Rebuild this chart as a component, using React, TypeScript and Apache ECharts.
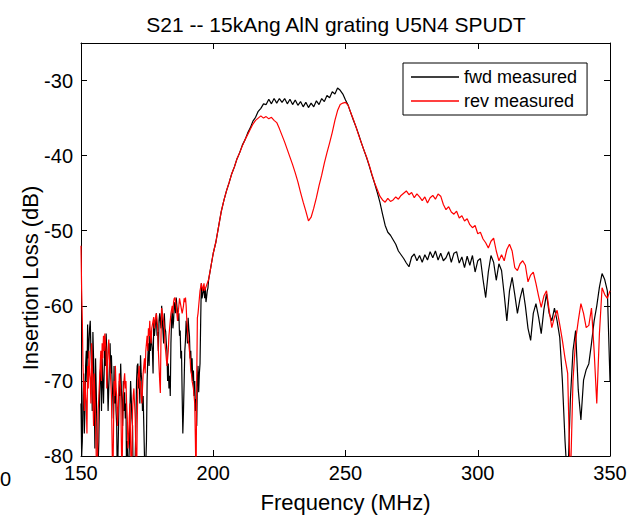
import React, { useEffect, useRef } from "react";
import * as echarts from "echarts";

const titleText = "S21 -- 15kAng AlN grating U5N4 SPUDT";
const xName = "Frequency (MHz)";
const yName = "Insertion Loss (dB)";
const seriesNames = ["fwd measured", "rev measured"];
const xTicks = { min: 150, max: 350, interval: 50 };
const yTicks = { min: -80, max: -25, interval: 10 };

// 150 .. 199.75 MHz, 0.25 MHz steps
const fwdLow = [
  -73, -80, -78, -72, -69, -77, -74, -68, -66, -70, -62.5, -67, -65, -63, -62, -66, -68, -74, -63.5, -67,
  -72, -79, -67, -71, -76, -84, -84, -78, -72, -69, -68, -74, -67, -70, -73, -69, -65, -68, -63.7, -66,
  -66, -74, -71, -68, -65, -69, -66.6, -70, -72, -75, -68, -73, -70, -74, -76, -84, -84, -75, -70, -72,
  -67.7, -71, -73, -76, -70, -74, -71.5, -75, -73, -84, -78, -84, -84, -79, -74, -70, -72.2, -75, -76, -84,
  -84, -84, -84, -76, -70, -68, -67.7, -71, -69, -73, -66.6, -69, -70, -74, -72, -76, -76, -84, -84, -78,
  -70, -67, -65, -68, -64, -66, -63.3, -65, -66, -69, -62, -64, -64, -62, -61, -64, -63.5, -66, -62, -61,
  -61, -63, -60, -62, -62, -65, -61, -63, -63.4, -65, -66, -70, -67.7, -71, -69.3, -72, -65, -62, -60.5, -63,
  -62, -60, -59.5, -61, -58.9, -60, -60, -62, -61, -64, -63.3, -67, -66, -72, -77, -74, -70, -66, -64.6, -62,
  -63, -65, -61.6, -63, -64, -67, -66, -69, -67, -70, -68.6, -72, -70, -74, -72.4, -76, -70, -68, -71.5, -69,
  -67.7, -62, -57, -59, -59, -58, -57.5, -59, -57.6, -59.5, -58.8, -58, -57.6, -56.5, -56.5, -55.5, -55, -54.5, -54, -53.5,
];
const revLow = [
  -52, -58, -62, -68, -71, -74, -70, -72, -73, -77, -68, -71, -66, -69, -70, -73, -65, -68, -72, -76,
  -69, -72, -75, -80, -84, -80, -74, -72, -70, -68, -66, -70, -65, -67, -64, -66, -63.7, -65, -66, -71,
  -68, -66, -64.5, -67, -67, -70, -72, -78, -84, -78, -70, -72, -68, -71, -72, -76, -74, -72, -69, -70,
  -71, -78, -84, -76, -72, -70, -69, -71, -70, -73, -75, -79, -78, -75, -73, -78, -84, -80, -74, -72,
  -71, -73, -75, -80, -84, -76, -70, -69, -68, -71, -70, -72, -73, -71, -69, -68, -67, -69, -66, -65,
  -64, -66, -63, -64, -62, -64, -65, -63, -63, -62, -61.5, -63, -62, -61.5, -61, -62, -63, -66, -68, -70,
  -71.6, -64, -60.3, -61, -61, -62, -63, -65, -66, -67, -68, -67, -66, -64, -63, -62, -61, -61, -60, -61,
  -59.5, -59, -58.9, -59.5, -60, -61, -62, -61, -60, -59, -59.5, -60, -60, -61, -61, -60, -59, -59.5, -58.9, -60,
  -62, -63, -64.6, -65, -66, -67, -68.6, -69, -70, -70.5, -71, -72, -73, -78, -84, -70, -61.6, -61, -60, -59,
  -58, -57.5, -57, -57.5, -58, -57.5, -57, -58, -58, -57.5, -57.5, -57, -57, -56.5, -56, -55.5, -55, -54.5, -54, -53.5,
];
// 200 .. 350 MHz, 1 MHz steps
const fwdHigh = [
  -53, -51.5, -49.5, -47.5, -46, -44.7, -43.6, -42.4, -41.5, -40.4,
  -39.6, -38.6, -37.9, -37, -36.3, -35.4, -34.9, -34.1, -33.7, -33.1,
  -33.2, -32.5, -33.1, -32.4, -33.0, -32.4, -32.9, -32.4, -33.1, -32.5,
  -33.2, -32.6, -33.3, -32.8, -33.5, -32.9, -33.6, -33.0, -33.5, -32.7,
  -33.2, -32.4, -32.8, -32.0, -32.3, -31.5, -31.8, -31.0, -31.3, -31.8,
  -32.6, -33.3, -34.3, -35.3, -36.2, -37.2, -38.3, -39.3, -40.3, -41.4,
  -42.6, -43.7, -44.9, -46.2, -47.8, -49.3, -50.2, -50.6, -51.2, -51.8,
  -52.7, -53.2, -53.7, -54.3, -54.8, -53.5, -53.1, -54.0, -53.3, -54.2,
  -53.2, -53.9, -52.8, -53.6, -52.7, -53.9, -53.0, -54.0, -53.6, -52.8,
  -54.2, -53.0, -52.8, -54.3, -53.5, -54.9, -53.4, -54.6, -53.3, -55.5,
  -54.0, -53.7, -56.5, -58.9, -55.5, -53.3, -54.2, -56.6, -54.4, -55.3,
  -58.5, -62.0, -58.0, -56.2, -58.5, -61.0, -59.0, -57.6, -60.0, -63.0,
  -64.6, -61.0, -59.7, -61.5, -63.7, -60.5, -58.4, -61.0, -62.0, -60.3,
  -62.0, -64.2, -70.0, -78.0, -84, -72.6, -66, -63.3, -71.2, -75.2,
  -69.9, -68.5, -67.7, -65, -62, -60, -57.5, -55.7, -56.5, -58,
  -70,
];
const revHigh = [
  -53, -51.5, -49.5, -47.5, -46, -44.7, -43.6, -42.4, -41.5, -40.4,
  -39.6, -38.7, -37.9, -37.2, -36.5, -35.8, -35.3, -35.0, -34.7, -35.0,
  -34.8, -35.1, -34.9, -35.3, -35.6, -36.4, -37.3, -38.2, -39.2, -40.2,
  -41.2, -42.3, -43.5, -44.9, -46.2, -47.4, -48.7, -48.2, -47.0, -45.6,
  -44.0, -42.6, -41.0, -39.6, -38.3, -36.9, -35.3, -34.0, -33.2, -33.0,
  -32.9, -33.3, -34.3, -35.2, -36.2, -37.3, -38.3, -39.3, -40.2, -41.3,
  -42.5, -43.6, -44.5, -45.4, -45.9, -46.2, -45.7, -46.1, -45.9, -45.5,
  -45.8, -45.3, -45.0, -44.7, -45.2, -44.9, -45.6, -45.1, -45.5, -46.0,
  -45.5, -46.3, -45.6, -45.3, -45.8, -45.1, -45.4, -46.5, -47.2, -46.8,
  -47.5, -47.8, -47.4, -48.3, -48.0, -48.7, -48.4, -49.2, -49.6, -49.3,
  -50.4, -50.2, -51.1, -51.6, -52.3, -51.4, -51.0, -52.7, -54.0, -53.2,
  -54.0, -52.5, -51.8, -52.7, -54.9, -55.3, -54.4, -54.0, -54.6, -56.8,
  -55.9, -55.5, -57.0, -58.7, -60.2, -58.7, -58.0, -60.6, -62.9, -61.5,
  -60.6, -62.5, -64.6, -67, -69, -84, -70, -64.6, -62, -59.7,
  -61, -62.9, -62.6, -60.3, -66, -73, -63.7, -57.6, -58.5, -59,
  -58,
];

function toPairs(low: number[], high: number[]): number[][] {
  const out: number[][] = [];
  low.forEach((v, i) => out.push([150 + i * 0.25, v]));
  high.forEach((v, i) => out.push([200 + i, v]));
  return out;
}

export default function App() {
  const ref = useRef<HTMLDivElement>(null);
  useEffect(() => {
    if (!ref.current) return;
    const chart = echarts.init(ref.current, null, { renderer: "svg" });
    const font = "'Liberation Sans', Arial, sans-serif";
    const axisCommon = {
      min: xTicks.min,
      max: xTicks.max,
      interval: xTicks.interval,
    };
    chart.setOption({
      animation: false,
      backgroundColor: "#ffffff",
      title: {
        text: titleText,
        left: 331,
        top: 9,
        textAlign: "center",
        textStyle: { fontFamily: font, fontSize: 21, fontWeight: "normal", color: "#000" },
      },
      grid: { left: 81, right: 33, top: 43, bottom: 65, containLabel: false },
      legend: {
        left: 403,
        top: 63,
        orient: "vertical",
        data: seriesNames,
        icon: "rect",
        backgroundColor: "#fff",
        borderColor: "#000",
        borderWidth: 1,
        borderRadius: 0,
        padding: [5, 10, 5, 8],
        itemGap: 6,
        itemWidth: 48,
        itemHeight: 1.5,
        textStyle: { fontFamily: font, fontSize: 18, color: "#000" },
      },
      xAxis: [
        {
          type: "value",
          ...axisCommon,
          position: "bottom",
          axisLine: { lineStyle: { color: "#000", width: 1 } },
          axisTick: { inside: true, length: 6, lineStyle: { color: "#000" } },
          splitLine: { show: false },
          axisLabel: { fontFamily: font, fontSize: 20, color: "#000", margin: 7 },
          name: xName,
          nameLocation: "middle",
          nameGap: 35,
          nameTextStyle: { fontFamily: font, fontSize: 22, color: "#000" },
        },
        {
          type: "value",
          ...axisCommon,
          position: "top",
          axisLine: { lineStyle: { color: "#000", width: 1 } },
          axisTick: { inside: true, length: 6, lineStyle: { color: "#000" } },
          splitLine: { show: false },
          axisLabel: { show: false },
        },
      ],
      yAxis: [
        {
          type: "value",
          min: yTicks.min,
          max: yTicks.max,
          interval: yTicks.interval,
          position: "left",
          axisLine: { show: true, lineStyle: { color: "#000", width: 1 } },
          axisTick: { show: true, inside: true, length: 6, lineStyle: { color: "#000" } },
          splitLine: { show: false },
          axisLabel: { fontFamily: font, fontSize: 20, color: "#000", margin: 8, showMaxLabel: false },
        },
        {
          type: "value",
          min: yTicks.min,
          max: yTicks.max,
          interval: yTicks.interval,
          position: "right",
          axisLine: { show: true, lineStyle: { color: "#000", width: 1 } },
          axisTick: { show: true, inside: true, length: 6, lineStyle: { color: "#000" } },
          splitLine: { show: false },
          axisLabel: { show: false },
        },
      ],
      graphic: [
        {
          type: "text",
          x: 30,
          y: 278,
          rotation: Math.PI / 2,
          style: {
            text: yName,
            fontFamily: font,
            fontSize: 22,
            fill: "#000",
            textAlign: "center",
            textVerticalAlign: "middle",
          },
        },
        {
          type: "text",
          x: 0,
          y: 469,
          style: { text: "0", fontFamily: font, fontSize: 20, fill: "#000" },
        },
      ],
      series: [
        {
          name: seriesNames[0],
          type: "line",
          data: toPairs(fwdLow, fwdHigh),
          symbol: "none",
          lineStyle: { color: "#000000", width: 1.2 },
          itemStyle: { color: "#000000" },
          clip: true,
          z: 2,
        },
        {
          name: seriesNames[1],
          type: "line",
          data: toPairs(revLow, revHigh),
          symbol: "none",
          lineStyle: { color: "#ff0000", width: 1.2 },
          itemStyle: { color: "#ff0000" },
          clip: true,
          z: 3,
        },
      ],
    });
    return () => chart.dispose();
  }, []);
  return <div ref={ref} style={{ width: 643, height: 521, position: "absolute", left: 0, top: 0 }} />;
}
